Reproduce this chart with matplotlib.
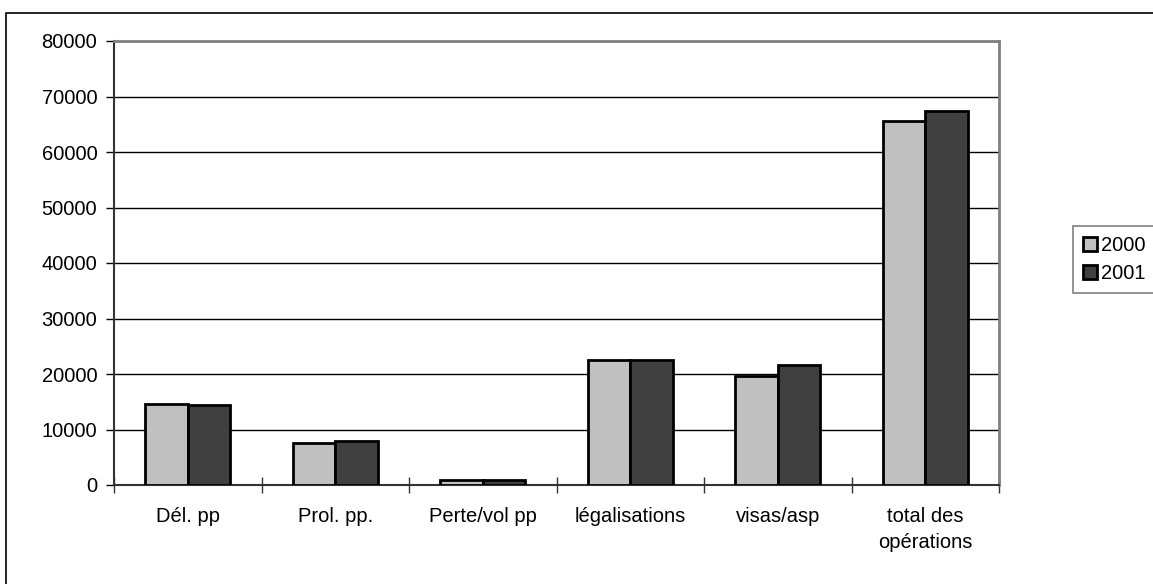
import matplotlib.pyplot as plt
import matplotlib.patches as patches
import numpy as np

plt.rcParams['font.family'] = ['Liberation Sans', 'DejaVu Sans']

categories = ['Dél. pp', 'Prol. pp.', 'Perte/vol pp', 'légalisations', 'visas/asp', 'total des\nopérations']
vals_2000 = [14600, 7600, 850, 22600, 19700, 65500]
vals_2001 = [14350, 7930, 950, 22450, 21700, 67300]
years = ['2000', '2001']
colors = ['#c0c0c0', '#404040']

W, H = 1153, 584
fs = 14.5
fig = plt.figure(figsize=(W / 100, H / 100), dpi=100)

# outer chart border (only top and left visible in the original)
fig.patches.append(patches.Rectangle((6 / W, -0.2), 2, 1.2 - 13 / H, transform=fig.transFigure,
                                     fill=False, edgecolor='black', linewidth=1.2, zorder=0))

ax = fig.add_axes([114 / W, (H - 485) / H, (999 - 114) / W, (485 - 41) / H])

x = np.arange(len(categories))
bw = 0.287
ax.bar(x - bw / 2, vals_2000, bw, color=colors[0], edgecolor='black', linewidth=2, label=years[0], zorder=3)
ax.bar(x + bw / 2, vals_2001, bw, color=colors[1], edgecolor='black', linewidth=2, label=years[1], zorder=3)

ax.set_xlim(-0.5, len(categories) - 0.5)
ax.set_ylim(0, 80000)
ax.set_yticks(np.arange(0, 80001, 10000))
ax.yaxis.grid(True, color='black', linewidth=1, zorder=0)
ax.set_axisbelow(True)

ax.set_xticks(x)
ax.set_xticklabels(categories, fontsize=fs, linespacing=1.45)
ax.set_xticks(np.arange(-0.5, len(categories), 1), minor=True)
ax.tick_params(axis='x', which='major', length=0, pad=16)
ax.tick_params(axis='x', which='minor', direction='inout', length=12, width=1, color='#333333')
ax.tick_params(axis='y', direction='out', length=6, width=1, labelsize=fs, pad=6)

for s in ['top', 'right']:
    ax.spines[s].set_color('#808080')
    ax.spines[s].set_linewidth(2)
ax.spines['left'].set_color('#333333')
ax.spines['left'].set_linewidth(1.5)
ax.spines['bottom'].set_color('#333333')
ax.spines['bottom'].set_linewidth(1.5)

leg = fig.legend(loc='upper left', bbox_to_anchor=(1073 / W, 1 - 226 / H), fontsize=fs,
                 handlelength=0.7, handleheight=0.7, handletextpad=0.2, borderpad=0.5,
                 labelspacing=0.45, fancybox=False, framealpha=1, edgecolor='#808080', borderaxespad=0)
leg.get_frame().set_linewidth(1.2)

fig.savefig('out.png', dpi=100)
